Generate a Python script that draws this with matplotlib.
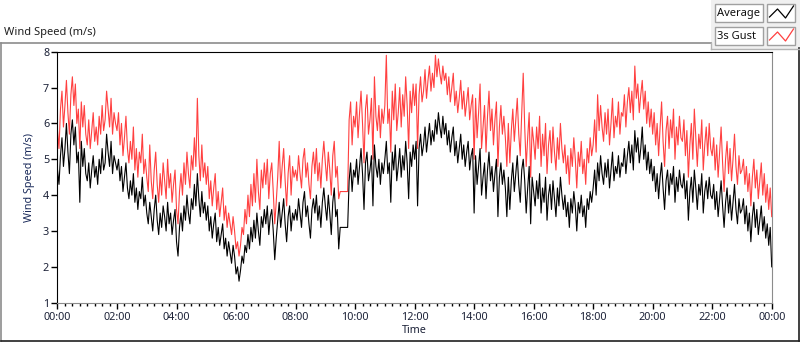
import numpy as np
import matplotlib
matplotlib.use("Agg")
import matplotlib.pyplot as plt
from matplotlib.lines import Line2D
from matplotlib.patches import Rectangle

# 3-minute readings over one day (one row per hour), last value = 24:00
avg_speed = [
    4.7, 4.3, 5.1, 5.6, 4.8, 5.3, 6.0, 5.2, 4.6, 5.7, 6.1, 5.4, 5.9, 4.9, 5.2, 3.8, 5.5, 4.8, 5.3, 4.6,
    4.4, 4.9, 4.2, 4.7, 5.1, 4.5, 4.8, 4.3, 5.0, 4.6, 5.3, 4.7, 4.9, 5.7, 5.2, 4.8, 5.5, 4.6, 5.1, 4.9,
    4.7, 5.0, 4.4, 4.8, 4.1, 4.5, 4.9, 4.2, 3.9, 4.4, 4.0, 4.6, 3.8, 4.2, 3.6, 4.1, 3.9, 4.5, 3.7, 4.0,
    3.5, 3.2, 3.8, 3.4, 3.0, 3.6, 4.0, 3.3, 2.9, 3.5, 3.1, 3.7, 3.4, 3.0, 3.8, 3.2, 3.5, 2.9, 3.3, 3.6,
    2.7, 2.3, 3.1, 3.5, 3.0, 3.7, 3.3, 4.0, 3.5, 3.2, 3.9, 3.6, 4.3, 3.7, 4.6, 3.9, 3.4, 4.1, 3.5, 3.8,
    3.3, 3.7, 3.0, 3.4, 2.8, 3.2, 3.5, 2.7, 3.1, 2.6, 2.9, 3.2, 2.5, 2.8, 2.3, 2.7, 2.4, 2.1, 2.6, 2.3,
    1.8, 2.0, 1.6, 1.9, 2.3, 2.1, 2.6, 2.4, 2.9, 2.5, 3.1, 2.7, 3.3, 2.8, 3.5, 3.0, 2.6, 3.4, 3.1, 3.6,
    3.2, 3.7, 2.9, 3.4, 3.6, 3.0, 2.2, 2.8, 3.3, 3.8, 3.1, 3.5, 3.9, 3.2, 2.7, 3.4, 3.7, 3.0, 3.5, 3.3,
    3.6, 3.3, 3.9, 3.5, 3.1, 3.8, 4.1, 3.4, 3.7, 3.2, 2.8, 3.6, 3.9, 3.5, 4.0, 3.3, 3.7, 3.1, 3.8, 4.2,
    3.7, 3.3, 4.0, 3.5, 2.9, 3.8, 4.2, 3.4, 3.6, 2.5, 3.1, 3.1, 3.1, 3.1, 3.1, 3.1, 4.4, 4.9, 4.1, 4.7,
    4.5, 5.0, 4.3, 4.8, 5.3, 4.6, 3.6, 4.9, 5.2, 4.4, 4.7, 5.1, 3.7, 5.4, 4.8, 4.5, 5.0, 4.3, 4.9, 4.6,
    5.0, 5.5, 4.6, 4.9, 3.8, 5.2, 4.7, 5.4, 4.4, 4.8, 5.3, 4.5, 5.1, 4.7, 5.5, 4.9, 3.9, 5.2, 4.8, 5.4,
    5.0, 5.5, 3.7, 5.3, 5.7, 5.1, 5.4, 5.9, 5.2, 5.6, 6.0, 5.4, 5.8, 5.5, 6.1, 5.7, 6.3, 5.9, 5.6, 6.2,
    5.7, 6.0, 5.4, 5.8, 5.2, 5.6, 5.9, 5.1, 5.5, 4.9, 5.3, 5.7, 5.0, 5.4, 4.8, 5.2, 5.5, 4.7, 5.1, 5.3,
    3.5, 5.1, 4.3, 4.8, 5.3, 4.0, 4.5, 4.9, 3.9, 4.7, 5.2, 4.4, 4.8, 4.1, 4.6, 5.0, 3.4, 4.5, 4.9, 4.3,
    4.7, 4.2, 3.4, 4.5, 3.6, 4.4, 4.9, 4.1, 4.6, 5.1, 4.3, 3.8, 4.7, 5.0, 4.4, 3.5, 4.2, 4.8, 3.2, 4.5,
    4.1, 3.7, 4.4, 3.9, 4.6, 3.5, 4.2, 3.8, 4.5, 3.3, 4.0, 4.3, 3.6, 4.4, 3.9, 3.4, 4.2, 3.7, 4.5, 4.0,
    3.6, 4.0, 3.4, 3.8, 3.1, 3.9, 3.5, 4.1, 3.7, 3.0, 3.8, 3.5, 4.0, 3.4, 3.7, 3.1, 3.9, 3.6, 4.1, 3.8,
    4.2, 4.7, 4.0, 4.9, 4.4, 5.1, 4.6, 4.3, 4.9, 4.5, 5.0, 4.2, 4.7, 5.2, 4.4, 4.8, 4.6, 5.1, 4.5, 4.9,
    4.8, 5.3, 4.6, 5.1, 5.5, 4.9, 5.4, 4.7, 5.8, 5.2, 5.6, 4.9, 5.3, 5.9, 5.0, 5.4, 4.7, 5.2, 4.6, 5.0,
    4.4, 4.8, 4.1, 4.6, 3.9, 4.5, 4.9, 4.2, 3.6, 4.4, 4.7, 4.0, 4.6, 4.3, 4.8, 3.8, 4.5, 4.1, 4.7, 4.3,
    4.2, 4.6, 3.9, 4.4, 3.3, 4.1, 4.5, 3.8, 4.7, 4.2, 3.6, 4.3, 4.0, 4.6, 3.5, 4.1, 4.4, 3.9, 4.5, 4.0,
    3.9, 4.3, 3.6, 4.1, 3.4, 3.9, 4.4, 3.7, 3.1, 3.8, 4.2, 3.5, 4.0, 3.3, 3.8, 4.3, 3.6, 3.2, 3.9, 3.5,
    3.6, 3.9, 3.2, 3.7, 3.0, 3.5, 2.7, 3.4, 3.8, 3.1, 3.6, 2.9, 3.3, 3.7, 3.0, 3.4, 2.8, 3.2, 2.6, 3.1,
    2.0,
]

gust_speed = [
    5.8, 5.3, 6.4, 6.9, 5.9, 6.5, 7.2, 6.3, 5.7, 6.8, 7.3, 6.5, 7.1, 6.0, 6.4, 5.3, 6.6, 5.9, 6.5, 5.7,
    5.4, 6.1, 5.3, 5.8, 6.3, 5.5, 5.9, 5.4, 6.2, 5.7, 6.5, 5.8, 6.1, 6.9, 6.4, 5.9, 6.7, 5.7, 6.3, 6.0,
    5.8, 6.3, 5.4, 6.0, 5.1, 5.6, 6.2, 5.3, 4.9, 5.5, 5.0, 5.9, 4.7, 5.3, 4.5, 5.2, 4.9, 5.7, 4.6, 5.0,
    4.5, 4.1, 5.4, 4.4, 3.9, 4.7, 5.2, 4.3, 3.8, 4.6, 4.0, 4.9, 4.4, 3.9, 5.0, 4.2, 4.6, 3.8, 4.3, 4.7,
    3.6, 3.2, 4.1, 4.6, 4.0, 4.9, 4.3, 5.2, 4.6, 4.2, 5.1, 4.7, 5.6, 4.8, 6.7, 5.1, 4.4, 5.4, 4.5, 4.9,
    4.3, 4.8, 3.9, 4.4, 3.7, 4.2, 4.6, 3.6, 4.1, 3.4, 3.8, 4.2, 3.3, 3.7, 3.1, 3.5, 3.2, 2.9, 3.4, 3.0,
    2.5, 2.7, 2.3, 2.6, 3.1, 2.9, 3.6, 3.2, 4.0, 3.4, 4.3, 3.7, 4.6, 3.8, 5.0, 4.1, 3.6, 4.7, 4.2, 4.9,
    4.3, 5.0, 3.9, 4.6, 4.9, 4.1, 3.2, 3.8, 4.5, 5.5, 4.2, 4.8, 5.3, 4.4, 3.7, 4.6, 5.1, 4.0, 4.8, 4.5,
    4.7, 4.4, 5.1, 4.6, 4.2, 5.0, 5.3, 4.5, 4.9, 4.3, 3.9, 4.8, 5.2, 4.6, 5.3, 4.4, 4.9, 4.2, 5.0, 5.5,
    4.9, 4.4, 5.2, 4.7, 4.0, 5.1, 5.5, 4.5, 4.8, 3.9, 4.1, 4.1, 4.1, 4.1, 4.1, 4.1, 6.1, 6.6, 5.4, 6.2,
    5.9, 6.6, 5.6, 6.3, 6.9, 6.0, 4.9, 6.4, 6.8, 5.7, 6.1, 6.7, 5.0, 7.3, 6.2, 5.8, 6.5, 5.6, 6.4, 6.0,
    6.5, 7.9, 6.0, 6.4, 5.2, 6.9, 6.1, 7.1, 5.8, 6.3, 7.0, 5.9, 6.8, 6.2, 7.3, 6.5, 5.3, 6.9, 6.3, 7.1,
    6.5, 7.1, 5.3, 6.8, 7.3, 6.6, 6.9, 7.5, 6.7, 7.2, 7.6, 6.9, 7.4, 7.0, 7.9, 7.3, 7.8, 7.4, 7.1, 7.6,
    7.2, 7.4, 6.8, 7.3, 6.6, 7.0, 7.4, 6.5, 6.9, 6.3, 6.7, 7.2, 6.4, 6.9, 6.2, 6.6, 7.0, 6.1, 6.5, 6.8,
    5.0, 6.7, 5.6, 6.3, 7.1, 5.3, 5.9, 6.5, 5.2, 6.2, 6.9, 5.8, 6.4, 5.4, 6.1, 6.6, 4.8, 5.9, 6.5, 5.7,
    6.2, 5.6, 4.8, 6.0, 4.9, 5.8, 6.4, 5.5, 6.1, 6.7, 5.7, 5.1, 6.3, 7.4, 5.9, 4.8, 5.6, 6.3, 4.5, 5.9,
    5.5, 5.0, 5.9, 5.3, 6.2, 4.8, 5.7, 5.1, 6.0, 4.6, 5.4, 5.8, 4.9, 5.9, 5.2, 4.7, 5.6, 5.0, 6.0, 5.3,
    4.9, 5.4, 4.6, 5.1, 4.3, 5.3, 4.8, 5.6, 5.0, 4.2, 5.2, 4.8, 5.5, 4.6, 5.0, 4.3, 5.3, 4.9, 5.6, 5.1,
    5.4, 6.1, 5.2, 6.8, 5.8, 6.5, 5.9, 5.5, 6.3, 5.7, 6.4, 5.4, 6.0, 6.7, 5.6, 6.2, 5.9, 6.6, 5.7, 6.3,
    6.2, 6.8, 5.9, 6.6, 7.0, 6.3, 6.9, 6.1, 7.6, 6.7, 7.1, 6.3, 6.8, 7.2, 6.4, 6.9, 6.0, 6.6, 5.9, 6.4,
    5.7, 6.3, 5.4, 6.0, 5.1, 5.9, 6.6, 5.5, 4.8, 5.8, 6.2, 5.3, 6.1, 5.6, 6.4, 5.0, 5.9, 5.4, 6.2, 5.6,
    5.5, 6.1, 5.1, 5.8, 4.5, 5.4, 6.0, 5.0, 6.4, 5.6, 4.8, 5.7, 5.3, 6.1, 4.7, 5.4, 5.9, 5.1, 6.0, 5.3,
    5.1, 5.6, 4.7, 5.4, 4.5, 5.2, 5.9, 4.9, 4.1, 5.0, 5.5, 4.6, 5.3, 4.4, 5.0, 5.7, 4.8, 4.3, 5.1, 4.6,
    4.7, 5.0, 4.3, 4.8, 4.1, 4.6, 3.7, 4.5, 5.0, 4.2, 4.7, 3.9, 4.4, 4.9, 4.0, 4.6, 3.8, 4.3, 3.6, 4.2,
    3.4,
]

hour_labels = ["00:00", "02:00", "04:00", "06:00", "08:00", "10:00", "12:00",
               "14:00", "16:00", "18:00", "20:00", "22:00", "00:00"]
series_names = ["Average", "3s Gust"]
series_colors = ["#000000", "#ff4040"]

W, H = 800, 342
FONT = "Noto Sans"
TXT = "#1c2238"

hours = np.arange(len(avg_speed)) * 3 / 60.0


def fx(x):
    return x / W


def fy(y):
    return 1 - y / H


fig = plt.figure(figsize=(8, 3.42), dpi=100)
fig.patch.set_facecolor("white")

ax = fig.add_axes([fx(57.5), fy(302.7), fx(771.7 - 57.5), (302.7 - 51.7) / H])
ax.plot(hours, gust_speed, color=series_colors[1], lw=0.8)
ax.plot(hours, avg_speed, color=series_colors[0], lw=0.8)

ax.set_xlim(0, 24)
ax.set_ylim(1, 8)
ax.set_xticks(np.arange(0, 25, 2))
ax.set_xticklabels(hour_labels)
ax.set_xticks(np.arange(0, 24.01, 0.25), minor=True)
ax.set_yticks(range(1, 9))
ax.tick_params(axis="x", which="major", length=4, width=1, pad=3,
               labelsize=7.8, labelcolor=TXT)
ax.tick_params(axis="x", which="minor", length=2.5, width=1)
ax.tick_params(axis="y", length=4, width=1, pad=2, labelsize=7.8, labelcolor=TXT)
for lab in ax.get_xticklabels() + ax.get_yticklabels():
    lab.set_family(FONT)

for side in ("left", "top"):
    ax.spines[side].set_color("black")
for side in ("right", "bottom"):
    ax.spines[side].set_color("#8c8c8c")
ax.set_xlabel("Time", family=FONT, fontsize=7.8, color=TXT, labelpad=1)
ax.set_ylabel("Wind Speed (m/s)", family=FONT, fontsize=7.8, color="#1a2a5a", labelpad=6)

# title above the frame
fig.text(fx(4), fy(32), "Wind Speed (m/s)", family=FONT, fontsize=8, color="#202020",
         va="center", ha="left")

# outer frame
fig.add_artist(Line2D([fx(0.5), fx(711)], [fy(42.5), fy(42.5)], color="#8c8c8c", lw=1.2))
fig.add_artist(Line2D([fx(0.5), fx(0.5)], [fy(42.5), fy(341)], color="#8c8c8c", lw=1.2))
fig.add_artist(Line2D([fx(0.5), fx(799.5)], [fy(341), fy(341)], color="#202020", lw=1.2))
fig.add_artist(Line2D([fx(799.3), fx(799.3)], [fy(48), fy(341)], color="#202020", lw=1.2))

# legend panel
fig.add_artist(Rectangle((fx(711), fy(49)), fx(89), 49 / H, transform=fig.transFigure,
                         facecolor="#f0f0f0", edgecolor="none"))
fig.add_artist(Line2D([fx(711), fx(711)], [fy(42.5), fy(49)], color="#b4b4b4", lw=1))
fig.add_artist(Line2D([fx(711), fx(799)], [fy(48.5), fy(48.5)], color="#b4b4b4", lw=1))

for i, (name, col) in enumerate(zip(series_names, series_colors)):
    top = 4 + i * 23
    fig.add_artist(Rectangle((fx(715), fy(top + 18)), fx(47.5), 18 / H,
                             transform=fig.transFigure, facecolor="white",
                             edgecolor="#a0a0a0", lw=1))
    fig.text(fx(717), fy(top + 9.5), name, family=FONT, fontsize=8, color="#101010",
             va="center", ha="left")
    fig.add_artist(Rectangle((fx(767), fy(top + 18)), fx(28), 18 / H,
                             transform=fig.transFigure, facecolor="white",
                             edgecolor="#a0a0a0", lw=1))
    ix = [769.5, 777.5, 785.5, 793.5]
    iy = [top + 13, top + 5, top + 14, top + 2]
    fig.add_artist(Line2D([fx(v) for v in ix], [fy(v) for v in iy], color=col, lw=0.9))

fig.savefig("out.png", dpi=100, facecolor="white")
